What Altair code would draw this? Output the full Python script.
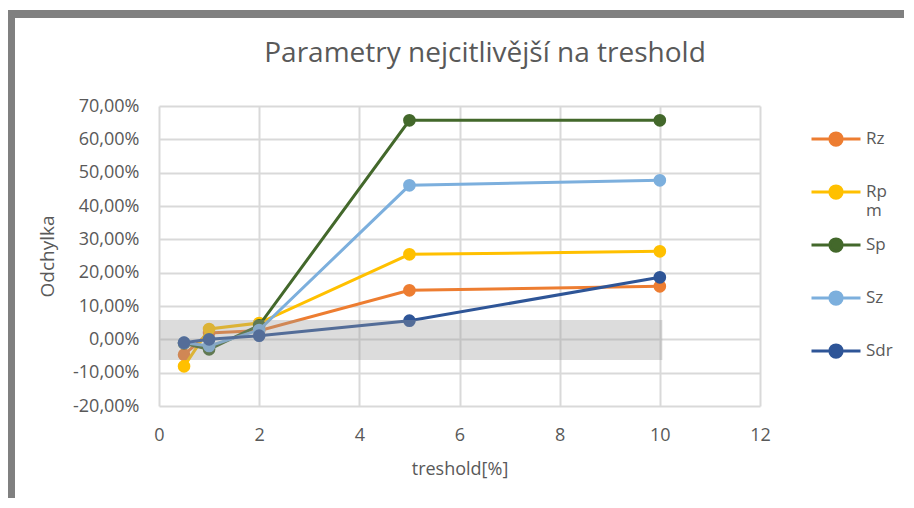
import altair as alt
import pandas as pd

threshold = [0.5, 1, 2, 5, 10]
series_names = ["Rz", "Rpm", "Sp", "Sz", "Sdr"]
colors = ["#ED7D31", "#FFC000", "#43682B", "#7CAFDD", "#2E5597"]
rz = [-4.6, 1.9, 2.6, 14.7, 15.9]
rpm = [-8.1, 3.1, 4.9, 25.5, 26.4]
sp = [-1.2, -3.0, 4.2, 65.7, 65.7]
sz = [-1.0, -2.0, 2.8, 46.2, 47.7]
sdr = [-1.0, 0.0, 1.1, 5.6, 18.6]
band_low, band_high, band_x0, band_x1 = -6.2, 5.8, 0, 10.05
title_text = "Parametry nejcitlivější na treshold"

values = {"Rz": rz, "Rpm": rpm, "Sp": sp, "Sz": sz, "Sdr": sdr}
rows = []
for name in series_names:
    for t, v in zip(threshold, values[name]):
        rows.append({"threshold": t, "value": v, "series": name})
df = pd.DataFrame(rows)

FONT = "Open Sans"
GREY = "#595959"

x_scale = alt.Scale(domain=[0, 12], nice=False, zero=False)
y_scale = alt.Scale(domain=[-20, 70], nice=False)
color_scale = alt.Scale(domain=series_names, range=colors)

legend_path = ("M-1,0L-0.25,0M0.25,0L1,0"
               "M0.25,0A0.25,0.25,0,1,1,-0.25,0A0.25,0.25,0,1,1,0.25,0Z")

x_axis = alt.Axis(values=list(range(0, 13, 2)), title="treshold[%]", grid=True,
                  domain=False, ticks=False, labelPadding=20, labelFontSize=18,
                  labelFlush=False,
                  labelColor=GREY, titleFontSize=18, titleColor=GREY,
                  titleFontWeight="normal", titleBaseline="alphabetic", titleY=68,
                  labelFont=FONT, titleFont=FONT)
y_axis = alt.Axis(values=list(range(-20, 71, 10)), title="Odchylka", grid=True,
                  domain=False, ticks=False, labelPadding=20, labelFontSize=18,
                  labelColor=GREY, titleFontSize=19, titleColor=GREY,
                  titleFontWeight="normal", titleBaseline="alphabetic",
                  titleX=-106, titleY=150, titleAngle=270, titleAlign="center",
                  labelFont=FONT, titleFont=FONT,
                  labelExpr="(datum.value < 0 ? '-' : '') + replace(format(abs(datum.value), '.2f'), '.', ',') + '%'")

legend = alt.Legend(title=None, orient="none", legendX=651, legendY=7,
                    symbolType=legend_path, symbolSize=2401, symbolStrokeWidth=3,
                    labelFontSize=17, labelColor=GREY, labelFont=FONT, labelOffset=4,
                    rowPadding=0, padding=0, gridAlign="all",
                    labelExpr="datum.label == 'Rpm' ? ['Rp', 'm'] : datum.label")

x_enc = alt.X("threshold:Q", scale=x_scale, axis=x_axis)
y_enc = alt.Y("value:Q", scale=y_scale, axis=y_axis)
c_enc = alt.Color("series:N", scale=color_scale, legend=legend)

layers = []
for name in series_names:
    sub = df[df.series == name]
    base = alt.Chart(sub)
    line = base.mark_line(strokeWidth=3).encode(x=x_enc, y=y_enc, color=c_enc)
    pts = base.mark_point(filled=True, size=160, opacity=1).encode(x=x_enc, y=y_enc, color=c_enc)
    layers += [line, pts]

band_df = pd.DataFrame({"x0": [band_x0], "x1": [band_x1], "y0": [band_low], "y1": [band_high]})
band = alt.Chart(band_df).mark_rect(color="#9b9b9b", opacity=0.35).encode(
    x=alt.X("x0:Q", scale=x_scale, axis=x_axis), x2="x1:Q",
    y=alt.Y("y0:Q", scale=y_scale, axis=y_axis), y2="y1:Q")
layers.append(band)

# frame and title (decoration)
one = pd.DataFrame({"a": [0]})
frame_left = alt.Chart(one).mark_rect(color="#808080").encode(
    x=alt.value(-151), x2=alt.value(-144), y=alt.value(-96), y2=alt.value(400))
frame_top = alt.Chart(one).mark_rect(color="#808080").encode(
    x=alt.value(-151), x2=alt.value(760), y=alt.value(-96), y2=alt.value(-88))
title = alt.Chart(pd.DataFrame({"t": [title_text]})).mark_text(
    font=FONT, fontSize=28, color=GREY, align="center", baseline="alphabetic"
).encode(text="t:N", x=alt.value(326), y=alt.value(-44))
layers += [frame_left, frame_top, title]

chart = alt.layer(*layers).properties(
    width=601, height=300,
    padding={"left": 151, "top": 98, "right": 144, "bottom": 92},
    autosize=alt.AutoSizeParams(type="none"),
    background="white",
).configure_view(stroke=None).configure_axis(
    gridColor="#d9d9d9", gridWidth=2
)

chart.save("out.html", embed_options={"renderer": "svg", "actions": False})
